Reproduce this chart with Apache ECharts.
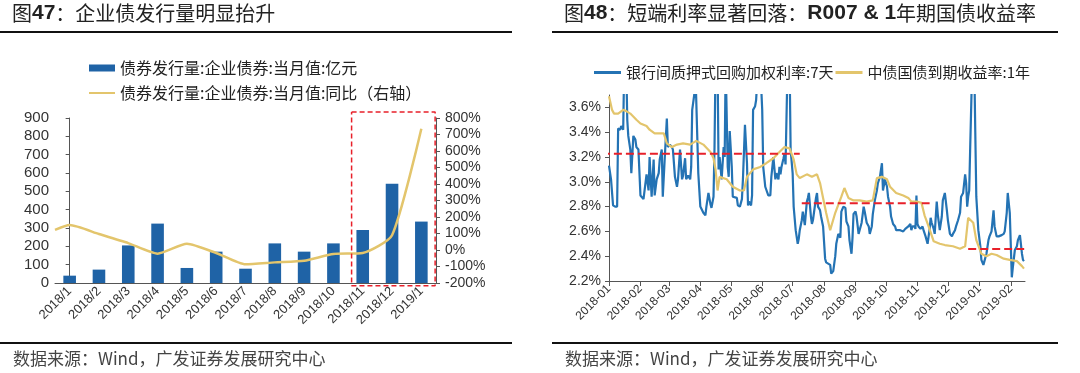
<!DOCTYPE html>
<html><head><meta charset="utf-8">
<script src="https://cdn.jsdelivr.net/npm/echarts@6/dist/echarts.min.js"></script>
<style>html,body{margin:0;padding:0;background:#fff}#c{width:1080px;height:373px}</style>
</head><body><div id="c"></div>
<script>
// ---------- Left chart data ----------
const monthCats = ['2018/1','2018/2','2018/3','2018/4','2018/5','2018/6','2018/7','2018/8','2018/9','2018/10','2018/11','2018/12','2019/1'];
const issuance = [40, 73, 205, 324, 82, 171, 78, 216, 171, 216, 289, 542, 335];
const issuanceYoY = [151, 97, 42, -22, 38, -18, -87, -75, -65, -24, -18, 89, 735];
const yoyAtAxisEdge = 122; // where the YoY line meets the left axis
// highlight box (category index units, left-axis units)
const boxX = [9.62, 12.47];
const boxY = [-15, 933];

// ---------- Right chart data ----------
// day offsets from 2018-01-01
const r007Days = [0,2,4,6,8,9,11,12,14,15,17,18,19,21,22,24,26,27,29,31,32,34,35,37,39,40,42,44,45,47,49,50,52,53,55,57,58,60,62,63,65,67,68,70,72,73,75,76,78,80,81,82,84,85,88,90,93,95,96,98,100,101,103,104,105,107,108,109,111,113,114,115,117,118,119,121,122,123,126,127,129,131,132,134,136,137,138,140,141,142,144,145,147,149,151,152,154,155,157,159,160,162,164,165,167,168,169,170,172,173,174,176,178,179,181,182,184,186,187,188,190,191,193,195,196,197,199,200,201,202,204,205,206,208,209,211,213,214,216,218,219,221,223,224,226,228,229,231,233,234,236,237,239,240,241,243,244,246,247,249,251,252,254,256,257,259,260,262,264,265,267,269,270,272,274,275,277,278,280,282,283,287,290,292,293,295,297,298,299,301,302,303,304,305,307,309,310,312,314,316,317,318,320,321,323,324,326,328,329,331,333,334,336,338,339,341,342,344,346,347,349,351,352,353,354,355,356,358,360,361,362,364,366,367,369,370,372,374,375,377,379,380,382,384,385,387,389,390,392,393,395,397,398,400,402,403,405,407,408,409];
const r007Vals = [3.13,3.02,2.81,2.80,2.80,3.43,3.42,3.45,3.42,3.95,3.95,3.50,3.37,3.26,3.07,3.37,3.34,3.28,3.26,2.89,2.88,2.86,2.85,3.06,2.93,3.20,2.88,3.18,2.89,3.02,3.07,3.18,3.26,2.88,3.20,3.51,3.28,3.30,3.28,3.26,3.04,2.96,3.02,3.26,3.02,3.05,3.19,3.02,3.05,3.02,3.12,3.58,3.70,3.95,3.07,2.80,2.75,2.73,2.80,2.91,2.82,2.79,2.88,3.28,3.95,3.95,3.10,3.20,3.02,3.28,3.20,3.95,3.12,3.04,3.41,3.12,2.88,2.87,2.87,2.81,2.80,2.86,3.02,3.46,3.15,2.81,2.84,2.81,2.89,3.58,3.61,3.66,3.95,3.95,3.58,3.12,2.96,2.95,2.89,2.89,3.04,3.20,3.02,3.07,3.02,3.12,3.06,3.12,3.19,3.23,3.14,3.95,3.95,3.26,3.07,2.80,2.61,2.50,2.54,2.61,2.69,2.76,2.65,2.84,2.87,2.91,2.72,2.66,2.69,2.69,2.87,2.91,2.80,2.77,2.72,2.64,2.38,2.35,2.34,2.33,2.26,2.28,2.40,2.50,2.58,2.55,2.76,2.80,2.79,2.68,2.64,2.53,2.42,2.55,2.74,2.76,2.72,2.58,2.57,2.67,2.80,2.76,2.67,2.64,2.58,2.64,2.74,2.85,2.93,2.99,3.04,3.15,2.93,3.02,2.96,2.88,2.80,2.72,2.66,2.64,2.61,2.61,2.60,2.62,2.61,2.64,2.66,2.61,2.64,2.64,2.62,2.89,2.66,2.64,2.62,2.64,2.61,2.56,2.50,2.62,2.71,2.67,2.62,2.58,2.84,2.74,2.61,2.72,2.85,2.91,2.77,2.69,2.58,2.56,2.58,2.61,2.64,2.69,2.75,2.88,2.91,3.06,2.99,2.80,2.88,2.93,3.28,3.95,3.95,3.40,2.88,2.61,2.48,2.37,2.33,2.32,2.42,2.53,2.56,2.60,2.77,2.64,2.56,2.56,2.57,2.57,2.58,2.60,2.75,2.91,2.75,2.23,2.31,2.45,2.48,2.53,2.57,2.42,2.37,2.36];
const cgb1yDays = [0,3,5,9,14,17,21,27,31,37,40,45,54,57,62,67,73,80,86,93,100,103,105,107,109,116,122,129,133,136,142,149,155,162,168,173,178,182,185,188,195,200,205,208,211,214,218,223,229,232,236,241,247,254,260,264,269,274,277,283,290,295,298,303,308,311,315,320,326,331,339,346,351,354,359,362,367,372,377,382,389,395,402,407,409];
const cgb1yVals = [3.69,3.58,3.55,3.55,3.58,3.57,3.55,3.50,3.47,3.45,3.42,3.39,3.39,3.31,3.28,3.30,3.31,3.30,3.33,3.30,3.24,3.19,3.10,2.93,3.04,3.02,2.96,2.93,2.93,3.04,3.10,3.12,3.15,3.19,3.24,3.28,3.27,3.18,3.06,3.03,3.06,3.04,3.06,2.99,2.87,2.75,2.61,2.75,2.88,2.95,2.87,2.85,2.85,2.84,2.85,3.03,3.04,3.02,2.96,2.91,2.89,2.87,2.84,2.84,2.83,2.73,2.64,2.52,2.50,2.49,2.48,2.46,2.48,2.71,2.67,2.53,2.42,2.40,2.42,2.41,2.38,2.37,2.36,2.32,2.30];
const monthTickLabels = ['2018-01','2018-02','2018-03','2018-04','2018-05','2018-06','2018-07','2018-08','2018-09','2018-10','2018-11','2018-12','2019-01','2019-02'];
const rateTicks = [2.2,2.4,2.6,2.8,3.0,3.2,3.4,3.6];
// red dashed reference levels: [fromDay, toDay, level]
const refLevels = [[-7, 188, 3.226], [190, 316, 2.827], [354, 434, 2.458]];

const DAY = 86400000;
const T0 = Date.UTC(2018, 0, 1);
const monthTickDays = monthTickLabels.map(s => Math.round((Date.UTC(+s.slice(0,4), +s.slice(5,7) - 1, 1) - T0) / DAY));
const dayLabel = {};
monthTickDays.forEach((d, i) => { dayLabel[d] = monthTickLabels[i]; });
const r007 = r007Days.map((d, i) => [d, r007Vals[i]]);
const cgb1y = cgb1yDays.map((d, i) => [d, cgb1yVals[i]]);
const yoyLine = [[-0.5, yoyAtAxisEdge]].concat(issuanceYoY.map((v, i) => [i, v]));

const BAR = '#1F63A6', GOLD = '#E3C56C', BLUE = '#2473B4', RED = '#E8202A';
const CJK = 'Noto Sans CJK SC', LAT = 'Liberation Sans';
const AX = '#555';

const names = {
  bar: '债券发行量:企业债券:当月值:亿元',
  yoy: '债券发行量:企业债券:当月值:同比（右轴）',
  r007: '银行间质押式回购加权利率:7天',
  cgb: '中债国债到期收益率:1年'
};

const chart = echarts.init(document.getElementById('c'), null, {renderer: 'canvas'});

const titleRich = {
  a: {fontFamily: CJK, fontSize: 20, fill: '#222'},
  b: {fontFamily: LAT, fontSize: 21, fontWeight: 'bold', fill: '#222'}
};
const srcStyle = {fontFamily: CJK, fontSize: 17, fill: '#444'};

const boxPts = [[boxX[0], boxY[1]], [boxX[1], boxY[1]], [boxX[1], boxY[0]], [boxX[0], boxY[0]], [boxX[0], boxY[1]]];

const refSeries = refLevels.map(r => ({
  type: 'line', xAxisIndex: 2, yAxisIndex: 2, silent: true, clip: false,
  symbol: 'none', z: 5,
  lineStyle: {color: RED, width: 2, type: [8, 4]},
  data: [[r[0], r[2]], [r[1], r[2]]]
}));

const option = {
  animation: false,
  textStyle: {fontFamily: LAT},
  graphic: [
    {type: 'text', left: 12, top: 3, style: {text: '{a|图}{b|47}{a|：企业债发行量明显抬升}', rich: titleRich}},
    {type: 'text', left: 564, top: 3, style: {text: '{a|图}{b|48}{a|：短端利率显著回落：}{b|R007 & 1}{a|年期国债收益率}', rich: titleRich}},
    {type: 'line', shape: {x1: 0, y1: 32, x2: 512, y2: 32}, style: {stroke: '#111', lineWidth: 2}},
    {type: 'line', shape: {x1: 552, y1: 32, x2: 1058, y2: 32}, style: {stroke: '#111', lineWidth: 2}},
    {type: 'line', shape: {x1: 0, y1: 343, x2: 512, y2: 343}, style: {stroke: '#111', lineWidth: 2}},
    {type: 'line', shape: {x1: 552, y1: 343, x2: 1058, y2: 343}, style: {stroke: '#111', lineWidth: 2}},
    {type: 'text', left: 13, top: 350, style: Object.assign({text: '数据来源：Wind，广发证券发展研究中心'}, srcStyle)},
    {type: 'text', left: 565, top: 350, style: Object.assign({text: '数据来源：Wind，广发证券发展研究中心'}, srcStyle)}
  ],
  legend: [
    {left: 84, top: 55, selectedMode: false, itemWidth: 26, itemHeight: 7, itemGap: 4,
     data: [{name: names.bar, icon: 'rect'}],
     textStyle: {fontFamily: CJK, fontSize: 16, color: '#222'}},
    {left: 84, top: 80, selectedMode: false, itemWidth: 26, itemHeight: 2, itemGap: 4,
     data: [{name: names.yoy, icon: 'rect'}],
     textStyle: {fontFamily: CJK, fontSize: 16, color: '#222'}},
    {left: 589, top: 60, selectedMode: false, itemWidth: 27, itemHeight: 3, itemGap: 2,
     data: [{name: names.r007, icon: 'rect'}, {name: names.cgb, icon: 'rect'}],
     textStyle: {fontFamily: CJK, fontSize: 15, color: '#222'}}
  ],
  grid: [
    {left: 55, top: 118, width: 381, height: 165},
    {left: 609, top: 95, width: 416, height: 186}
  ],
  xAxis: [
    {gridIndex: 0, type: 'category', data: monthCats, boundaryGap: true,
     axisLine: {lineStyle: {color: AX}},
     axisTick: {interval: 0, length: 5, lineStyle: {color: AX}},
     axisLabel: {interval: 0, rotate: 45, fontSize: 13, color: '#333', margin: 6}},
    {gridIndex: 0, type: 'value', min: -0.5, max: 12.5, show: false},
    {gridIndex: 1, type: 'value', min: 0, max: 410,
     axisLine: {onZero: false, lineStyle: {color: AX}},
     axisTick: {show: true, length: 5, customValues: monthTickDays, lineStyle: {color: AX}},
     axisLabel: {customValues: monthTickDays, rotate: 45, fontSize: 12, color: '#333', margin: 6,
       formatter: v => dayLabel[Math.round(v)] || ''},
     splitLine: {show: false}}
  ],
  yAxis: [
    {gridIndex: 0, type: 'value', min: 0, max: 900, interval: 100,
     axisLine: {show: true, lineStyle: {color: AX}},
     axisTick: {show: true, length: 4, lineStyle: {color: AX}},
     axisLabel: {fontSize: 15, color: '#333', margin: 6},
     splitLine: {show: false}},
    {gridIndex: 0, type: 'value', min: -200, max: 800, interval: 100, position: 'right',
     axisLine: {show: true, lineStyle: {color: AX}},
     axisTick: {show: true, length: 4, lineStyle: {color: AX}},
     axisLabel: {fontSize: 14, color: '#333', margin: 9, formatter: '{value}%'},
     splitLine: {show: false}},
    {gridIndex: 1, type: 'value', min: 2.2, max: 3.7,
     axisLine: {show: true, lineStyle: {color: AX}},
     axisTick: {show: true, length: 4, customValues: rateTicks, lineStyle: {color: AX}},
     axisLabel: {customValues: rateTicks, fontSize: 14, color: '#333', margin: 8,
       formatter: v => v.toFixed(1) + '%'},
     splitLine: {show: false}}
  ],
  series: [
    {name: names.bar, type: 'bar', xAxisIndex: 0, yAxisIndex: 0, data: issuance,
     barWidth: '43%', itemStyle: {color: BAR}},
    {name: names.yoy, type: 'line', xAxisIndex: 1, yAxisIndex: 1, data: yoyLine,
     smooth: 0.2, symbol: 'none', itemStyle: {color: GOLD}, lineStyle: {color: GOLD, width: 2.5}, z: 3},
    {type: 'line', xAxisIndex: 1, yAxisIndex: 0, data: boxPts, clip: false, silent: true,
     symbol: 'none', lineStyle: {color: RED, width: 1.5, type: [5, 3]}, z: 4},
    {name: names.r007, type: 'line', xAxisIndex: 2, yAxisIndex: 2, data: r007,
     symbol: 'none', itemStyle: {color: BLUE}, lineStyle: {color: BLUE, width: 2.2}, z: 2},
    {name: names.cgb, type: 'line', xAxisIndex: 2, yAxisIndex: 2, data: cgb1y,
     symbol: 'none', itemStyle: {color: GOLD}, lineStyle: {color: GOLD, width: 2.2}, z: 3}
  ].concat(refSeries)
};
chart.setOption(option);
</script></body></html>
